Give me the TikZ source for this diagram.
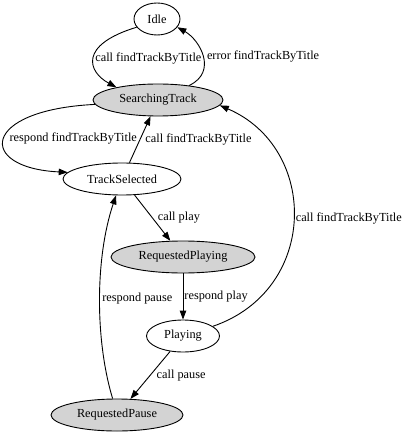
\documentclass[tikz,border=0pt]{standalone}
\usepackage{fontspec}
\setmainfont{Liberation Serif}
\usetikzlibrary{shapes.geometric, arrows.meta}
\definecolor{busy}{HTML}{D3D3D3}

\begin{document}
\begin{tikzpicture}[x=1pt, y=-1pt, font=\fontsize{12.3}{14}\selectfont,
        st/.style={ellipse, draw=black, line width=0.9pt, minimum height=32pt, inner sep=0pt},
        wait/.style={st, fill=busy},
        lbl/.style={inner sep=1pt},
        trans/.style={-{Triangle[length=9pt, width=6.5pt]}, line width=0.9pt}]
            \useasboundingbox (0, 0) rectangle (405, 435);

            \node[st, minimum width=46pt] (idle) at (157, 19) {Idle};
            \node[wait, minimum width=130pt] (search) at (158, 100) {SearchingTrack};
            \node[st, minimum width=118pt] (tsel) at (122, 179) {TrackSelected};
            \node[wait, minimum width=144pt] (reqplay) at (183, 257) {RequestedPlaying};
            \node[st, minimum width=73pt] (playing) at (183, 336) {Playing};
            \node[wait, minimum width=132pt] (reqpause) at (117, 415) {RequestedPause};

            \draw[trans] (idle.202) .. controls (78, 45) and (88, 72) .. (search.163) node[lbl, right, pos=0.5] (l1) {call findTrackByTitle};
            \draw[trans] (search.25) .. controls (218, 72) and (200, 40) .. (idle.338) node[lbl, right=3pt, pos=0.5] (l2) {error findTrackByTitle};
            \draw[trans] (search.184) .. controls (-20, 110) and (-23, 168) .. (tsel.173) node[lbl, right=4pt, pos=0.5] (l3) {respond findTrackByTitle};
            \draw[trans] (tsel) -- (search) node[lbl, right=4pt, midway] (l4) {call findTrackByTitle};
            \draw[trans] (tsel) -- (reqplay) node[lbl, right=4pt, midway] (l5) {call play};
            \draw[trans] (reqplay) -- (playing) node[lbl, right, midway] (l6) {respond play};
            \draw[trans] (playing.18) .. controls (319, 290) and (319, 148) .. (search.355) node[lbl, right=1pt, pos=0.5] (l7) {call findTrackByTitle};
            \draw[trans] (playing) -- (reqpause) node[lbl, right=5pt, midway] (l8) {call pause};
            \draw[trans] (reqpause.105) .. controls (95, 340) and (95, 258) .. (tsel.250) node[lbl, right=1pt, pos=0.5] (l9) {respond pause};
        \end{tikzpicture}
\end{document}
